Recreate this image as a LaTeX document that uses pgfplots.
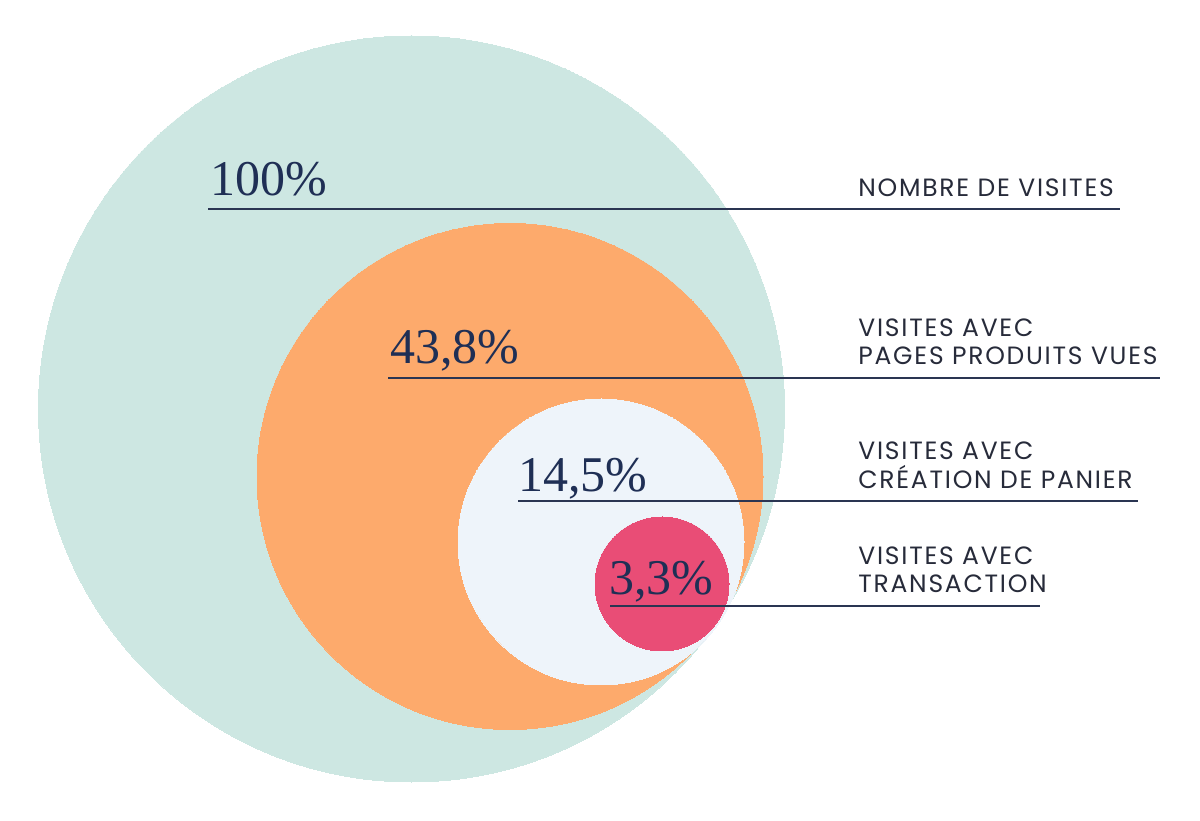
\documentclass[border=0pt]{standalone}
\usepackage{fontspec}
\usepackage{pgfplots}
\pgfplotsset{compat=1.18}
\newfontfamily\labfont[LetterSpace=7]{Poppins}
\newfontfamily\pctfont{Liberation Serif}
\definecolor{cTeal}{HTML}{CDE7E2}
\definecolor{cOrange}{HTML}{FDAA6C}
\definecolor{cLight}{HTML}{EEF4FA}
\definecolor{cPink}{HTML}{E94D76}
\definecolor{cNavy}{HTML}{1F2F55}
\definecolor{cLine}{HTML}{2A3552}
\definecolor{cLab}{HTML}{272B3A}
\begin{document}
\begin{tikzpicture}
\begin{axis}[
  set layers=standard,
  x=0.5pt, y=0.5pt,
  xmin=0, xmax=1200, ymin=0, ymax=820,
  y dir=reverse,
  hide axis,
  clip=false,
  scale only axis,
]
% background (page extent)
\addplot[on layer=axis background, draw=none, fill=white] coordinates {(0,0) (1200,0) (1200,820) (0,820) (0,0)};
% circles (centre x, centre y, radius r px; mark size = r/2 pt)
\addplot[on layer=axis background, color=cTeal, only marks, mark=*, mark size=186.5pt, mark options={draw=cTeal, fill=cTeal, line width=0pt}] coordinates {(411.5,409)};
\addplot[on layer=axis background, color=cOrange, only marks, mark=*, mark size=126.5pt, mark options={draw=cOrange, fill=cOrange, line width=0pt}] coordinates {(510,476.5)};
\addplot[on layer=axis background, color=cLight, only marks, mark=*, mark size=71.5pt, mark options={draw=cLight, fill=cLight, line width=0pt}] coordinates {(601,542)};
\addplot[on layer=axis background, color=cPink, only marks, mark=*, mark size=33.5pt, mark options={draw=cPink, fill=cPink, line width=0pt}] coordinates {(662,584)};
% leader lines
\addplot[on layer=axis foreground, cLine, line width=1pt] coordinates {(208,209) (1120,209)};
\addplot[on layer=axis foreground, cLine, line width=1pt] coordinates {(388,378) (1160,378)};
\addplot[on layer=axis foreground, cLine, line width=1pt] coordinates {(518,501) (1138,501)};
\addplot[on layer=axis foreground, cLine, line width=1pt] coordinates {(610,606) (1040,606)};
\tikzset{pct/.style={anchor=base west, inner sep=0pt, text=cNavy, font=\pctfont\fontsize{25}{30}\selectfont},
         lab/.style={anchor=base west, inner sep=0pt, text=cLab, font=\labfont\fontsize{12.5}{15}\selectfont}}
\begin{pgfonlayer}{axis foreground}
% percentages
\node[pct] at (axis cs:210,196) {100\%};
\node[pct] at (axis cs:390,364) {43,8\%};
\node[pct] at (axis cs:518,492) {14,5\%};
\node[pct] at (axis cs:609,595) {3,3\%};
% labels
\node[lab] at (axis cs:858,197) {NOMBRE DE VISITES};
\node[lab] at (axis cs:858,337) {VISITES AVEC};
\node[lab] at (axis cs:858,365) {PAGES PRODUITS VUES};
\node[lab] at (axis cs:858,460) {VISITES AVEC};
\node[lab] at (axis cs:858,489) {CRÉATION DE PANIER};
\node[lab] at (axis cs:858,565) {VISITES AVEC};
\node[lab] at (axis cs:858,593) {TRANSACTION};
\end{pgfonlayer}
\end{axis}
\end{tikzpicture}
\end{document}
